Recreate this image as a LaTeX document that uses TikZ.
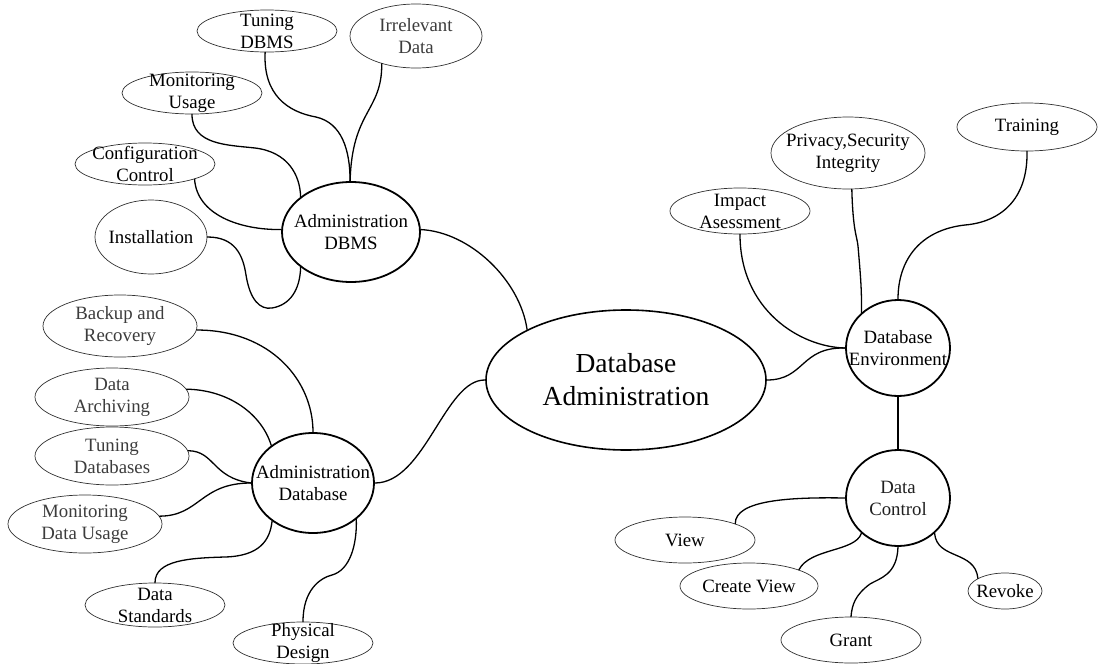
\documentclass[tikz,border=0pt]{standalone}
\usepackage{fontspec}
\setmainfont{Liberation Serif}
\usetikzlibrary{shapes.geometric}
\definecolor{softgray}{HTML}{3C3C3C}
\definecolor{darkgray}{HTML}{202020}
\definecolor{rimgray}{HTML}{303030}
\begin{document}
\begin{tikzpicture}[x=1pt,y=-1pt,
  leaf/.style={ellipse, draw=rimgray, line width=0.7pt, inner sep=0pt},
  hub/.style={ellipse, draw=black, line width=1.8pt, inner sep=0pt},
  txt/.style={font=\fontsize{18.8}{22}\selectfont, align=center, inner sep=0pt, text=black},
  txtg/.style={txt, text=softgray},
  txtd/.style={txt, text=darkgray},
  bigtxt/.style={font=\fontsize{27.5}{33}\selectfont, align=center, inner sep=0pt},
  link/.style={line width=1.3pt, line cap=round}]
\useasboundingbox (0,0) rectangle (1098,664);

% central topic
\node[hub, line width=1.6pt, minimum width=280pt, minimum height=140pt,
      label={[bigtxt]center:{Database\\Administration}}] (main) at (626,380) {};

% DBMS administration cluster
\node[hub, minimum width=138pt, minimum height=100pt,
      label={[txt]center:{Administration\\DBMS}}] (adbms) at (351,232) {};
\node[leaf, minimum width=140pt, minimum height=42pt,
      label={[txt]center:{Tuning\\DBMS}}] (tdbms) at (267,31) {};
\node[leaf, minimum width=132pt, minimum height=64pt,
      label={[txtg]center:{Irrelevant\\Data}}] (irr) at (416,36) {};
\node[leaf, minimum width=140pt, minimum height=42pt,
      label={[txt]center:{Monitoring\\Usage}}] (mon) at (192,93) {};
\node[leaf, minimum width=140pt, minimum height=42pt,
      label={[txt]center:{Configuration\\Control}}] (conf) at (145,164) {};
\node[leaf, minimum width=112pt, minimum height=74pt,
      label={[txt]center:Installation}] (inst) at (151,237) {};

% database administration cluster
\node[hub, minimum width=122pt, minimum height=100pt,
      label={[txt]center:{Administration\\Database}}] (adb) at (313,483) {};
\node[leaf, minimum width=154pt, minimum height=62pt,
      label={[txtg]center:{Backup and\\Recovery}}] (bak) at (120,326) {};
\node[leaf, minimum width=154pt, minimum height=58pt,
      label={[txtg]center:{Data\\Archiving}}] (arch) at (112,397) {};
\node[leaf, minimum width=154pt, minimum height=58pt,
      label={[txtg]center:{Tuning\\Databases}}] (tdb) at (112,456) {};
\node[leaf, minimum width=154pt, minimum height=58pt,
      label={[txtg]center:{Monitoring\\Data Usage}}] (mdu) at (85,524) {};
\node[leaf, minimum width=140pt, minimum height=44pt,
      label={[txt]center:{Data\\Standards}}] (dstd) at (155,605) {};
\node[leaf, minimum width=140pt, minimum height=42pt,
      label={[txt]center:{Physical\\Design}}] (phys) at (303,643) {};

% environment cluster
\node[hub, minimum width=104pt, minimum height=96pt,
      label={[txt]center:{Database\\Environment}}] (denv) at (898,348) {};
\node[leaf, minimum width=140pt, minimum height=46pt,
      label={[txt]center:{Impact\\Asessment}}] (imp) at (740,211) {};
\node[leaf, minimum width=154pt, minimum height=72pt,
      label={[txt]center:{Privacy,Security\\Integrity}}] (priv) at (848,153) {};
\node[leaf, minimum width=140pt, minimum height=48pt,
      label={[txt]center:Training}] (train) at (1027,127) {};

% data control cluster
\node[hub, minimum width=104pt, minimum height=96pt,
      label={[txtd]center:{Data\\Control}}] (dctl) at (898,498) {};
\node[leaf, minimum width=140pt, minimum height=46pt,
      label={[txt]center:View}] (view) at (685,540) {};
\node[leaf, minimum width=138pt, minimum height=46pt,
      label={[txt]center:Create View}] (cview) at (749,586) {};
\node[leaf, minimum width=140pt, minimum height=46pt,
      label={[txt]center:Grant}] (grant) at (851,640) {};
\node[leaf, minimum width=74pt, minimum height=36pt,
      label={[txt]center:Revoke}] (revoke) at (1005,591) {};

% branches around Administration DBMS
\draw[link] (tdbms.-95) .. controls (263,95) and (288,112) .. (316,117)
            .. controls (342,123) and (350,150) .. (adbms.91);
\draw[link] (irr.219) .. controls (382,112) and (352,110) .. (adbms.91);
\draw[link] (mon.-90) .. controls (192,145) and (228,145) .. (255,148)
            .. controls (288,152) and (300,175) .. (adbms.145);
\draw[link] (conf.-17) .. controls (197,215) and (240,230) .. (adbms.178);
\draw[link] (inst.0) .. controls (235,237) and (243,255) .. (246,275)
            .. controls (250,300) and (260,310) .. (272,308)
            .. controls (290,305) and (300,290) .. (adbms.215);
\draw[link] (adbms.2) .. controls (470,232) and (520,280) .. (main.153);

% branches around Administration Database
\draw[link] (main.180) .. controls (445,379) and (425,483) .. (adb.0);
\draw[link] (bak.-3) .. controls (270,330) and (313,380) .. (adb.90);
\draw[link] (arch.6) .. controls (230,390) and (262,415) .. (adb.138);
\draw[link] (tdb.4) .. controls (215,451) and (212,478) .. (adb.180);
\draw[link] (mdu.6) .. controls (200,516) and (200,483) .. (adb.180);
\draw[link] (dstd.90) .. controls (155,560) and (190,558) .. (225,557)
            .. controls (260,556) and (270,540) .. (adb.223);
\draw[link] (phys.90) .. controls (303,590) and (320,578) .. (332,575)
            .. controls (350,570) and (357,545) .. (adb.-40);

% branches around Database Environment
\draw[link] (main.0) .. controls (805,380) and (800,347) .. (denv.180);
\draw[link] (imp.-90) .. controls (740,310) and (800,347) .. (denv.180);
\draw[link] (priv.-84) .. controls (853,232) and (857,236) .. (858,246)
            .. controls (860,270) and (862,290) .. (denv.136);
\draw[link] (train.-90) .. controls (1028,200) and (1000,222) .. (965,225)
            .. controls (920,230) and (898,260) .. (denv.90);
\draw[link] (denv.-90) -- (dctl.90);

% branches around Data Control
\draw[link] (dctl.180) .. controls (790,497) and (735,500) .. (view.18);
\draw[link] (dctl.224) .. controls (855,552) and (810,548) .. (cview.18);
\draw[link] (dctl.-90) .. controls (897,575) and (880,578) .. (870,584)
            .. controls (855,595) and (852,605) .. (grant.90);
\draw[link] (dctl.-44) .. controls (937,560) and (975,550) .. (revoke.155);
\end{tikzpicture}
\end{document}
